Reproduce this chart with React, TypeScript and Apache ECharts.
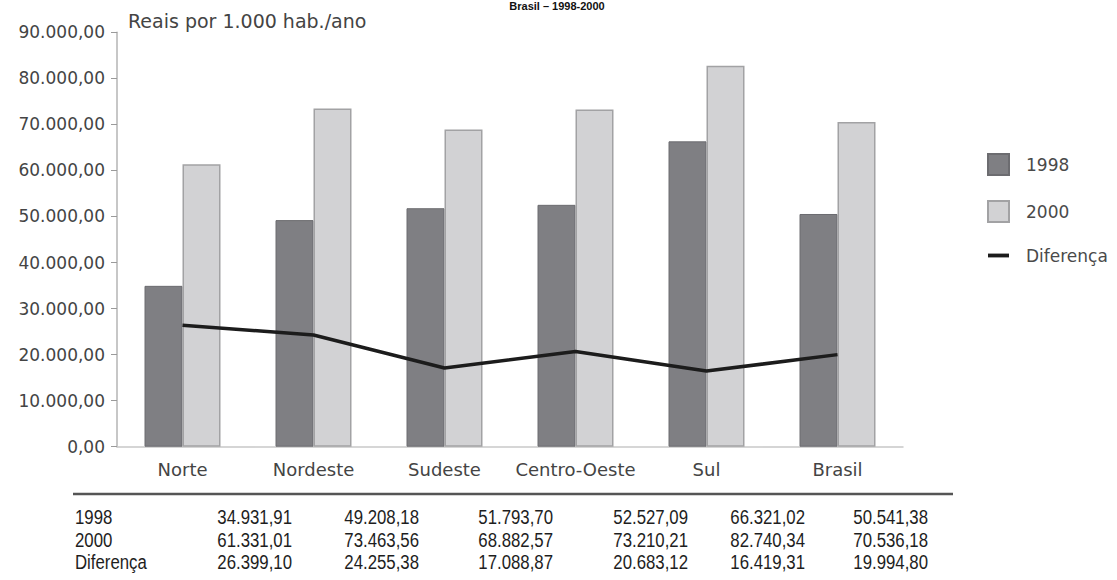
import React, { useEffect, useRef } from "react";
import * as echarts from "echarts";

const categories = ["Norte", "Nordeste", "Sudeste", "Centro-Oeste", "Sul", "Brasil"];
const values1998 = [34931.91, 49208.18, 51793.7, 52527.09, 66321.02, 50541.38];
const values2000 = [61331.01, 73463.56, 68882.57, 73210.21, 82740.34, 70536.18];
const valuesDif = [26399.1, 24255.38, 17088.87, 20683.12, 16419.31, 19994.8];
const seriesNames = ["1998", "2000", "Diferença"];
const yMin = 0;
const yMax = 90000;
const yStep = 10000;
const titleText = "Brasil – 1998-2000";
const unitText = "Reais por 1.000 hab./ano";

// layout of the data table under the chart (right edges of value columns)
const tableColRight = [292, 419, 553, 688, 805, 928];
const tableRowY = [517, 539.5, 562];

function formatBR(n: number): string {
  const fixed = n.toFixed(2);
  const [intPart, dec] = fixed.split(".");
  const withDots = intPart.replace(/\B(?=(\d{3})+(?!\d))/g, ".");
  return withDots + "," + dec;
}

export default function App() {
  const ref = useRef<HTMLDivElement>(null);
  useEffect(() => {
    if (!ref.current) return;
    const chart = echarts.init(ref.current, null, { renderer: "svg" });
    const axisFont = "'DejaVu Sans', sans-serif";
    const tableFont = "'Liberation Sans', Arial, sans-serif";

    const tableRows = [
      { label: seriesNames[0], vals: values1998 },
      { label: seriesNames[1], vals: values2000 },
      { label: seriesNames[2], vals: valuesDif },
    ];
    const tableGraphics: any[] = [];
    tableRows.forEach((row, ri) => {
      tableGraphics.push({
        type: "text",
        x: 75,
        y: tableRowY[ri],
        scaleX: 0.8,
        style: {
          text: row.label,
          x: 0,
          y: 0,
          align: "left",
          verticalAlign: "middle",
          font: `21px ${tableFont}`,
          fill: "#1e1e1e",
        },
      });
      row.vals.forEach((v, ci) => {
        tableGraphics.push({
          type: "text",
          x: tableColRight[ci],
          y: tableRowY[ri],
          scaleX: 0.8,
          style: {
            text: formatBR(v),
            x: 0,
            y: 0,
            align: "right",
            verticalAlign: "middle",
            font: `21px ${tableFont}`,
            fill: "#1e1e1e",
          },
        });
      });
    });

    chart.setOption({
      animation: false,
      backgroundColor: "#ffffff",
      grid: { left: 117, top: 32.3, width: 786, height: 414.4, containLabel: false },
      legend: {
        orient: "vertical",
        left: 982,
        top: 148,
        itemWidth: 21,
        itemHeight: 21,
        itemGap: 24,
        textStyle: { fontFamily: axisFont, fontSize: 17, color: "#4a4a4a", padding: [0, 0, 0, 12] },
        data: [
          { name: seriesNames[0], icon: "rect" },
          { name: seriesNames[1], icon: "rect" },
          { name: seriesNames[2], icon: "path://M0,0H22V4H0Z" },
        ],
      },
      xAxis: {
        type: "category",
        data: categories,
        boundaryGap: true,
        axisLine: { show: true, lineStyle: { color: "#c8c8c8", width: 1.5 } },
        axisTick: { show: false },
        axisLabel: { interval: 0, fontFamily: axisFont, fontSize: 18, color: "#444", margin: 14 },
        splitLine: { show: false },
      },
      yAxis: {
        type: "value",
        min: yMin,
        max: yMax,
        interval: yStep,
        axisLine: { show: true, lineStyle: { color: "#b4b4b4", width: 1.5 } },
        axisTick: { show: true, length: 6, lineStyle: { color: "#9a9a9a" } },
        axisLabel: {
          fontFamily: axisFont,
          fontSize: 17,
          color: "#444",
          margin: 12,
          formatter: (v: number) => formatBR(v),
        },
        splitLine: { show: false },
      },
      series: [
        {
          name: seriesNames[0],
          type: "bar",
          data: values1998,
          barWidth: 38,
          barGap: "0%",
          itemStyle: { color: "#7f7f83", borderColor: "#6c6c70", borderWidth: 1 },
          z: 2,
        },
        {
          name: seriesNames[1],
          type: "bar",
          data: values2000,
          barWidth: 38,
          barGap: "0%",
          itemStyle: { color: "#d2d2d4", borderColor: "#a2a2a4", borderWidth: 1.5 },
          z: 2,
        },
        {
          name: seriesNames[2],
          type: "line",
          data: valuesDif,
          symbol: "none",
          lineStyle: { color: "#1c1c1c", width: 3.5 },
          itemStyle: { color: "#1c1c1c" },
          z: 5,
        },
      ],
      graphic: [
        {
          type: "text",
          x: 557,
          y: 0,
          style: {
            text: titleText,
            align: "center",
            verticalAlign: "top",
            font: `bold 11px ${tableFont}`,
            fill: "#111",
          },
        },
        {
          type: "text",
          x: 128,
          y: 21,
          style: {
            text: unitText,
            align: "left",
            verticalAlign: "middle",
            font: `19px ${axisFont}`,
            fill: "#444",
          },
        },
        {
          type: "line",
          shape: { x1: 73, y1: 494, x2: 953, y2: 494 },
          style: { stroke: "#555", lineWidth: 2.5 },
        },
        ...tableGraphics,
      ],
    });
    return () => chart.dispose();
  }, []);

  return (
    <div
      ref={ref}
      style={{ position: "fixed", left: 0, top: 0, width: 1117, height: 580, background: "#fff" }}
    />
  );
}
